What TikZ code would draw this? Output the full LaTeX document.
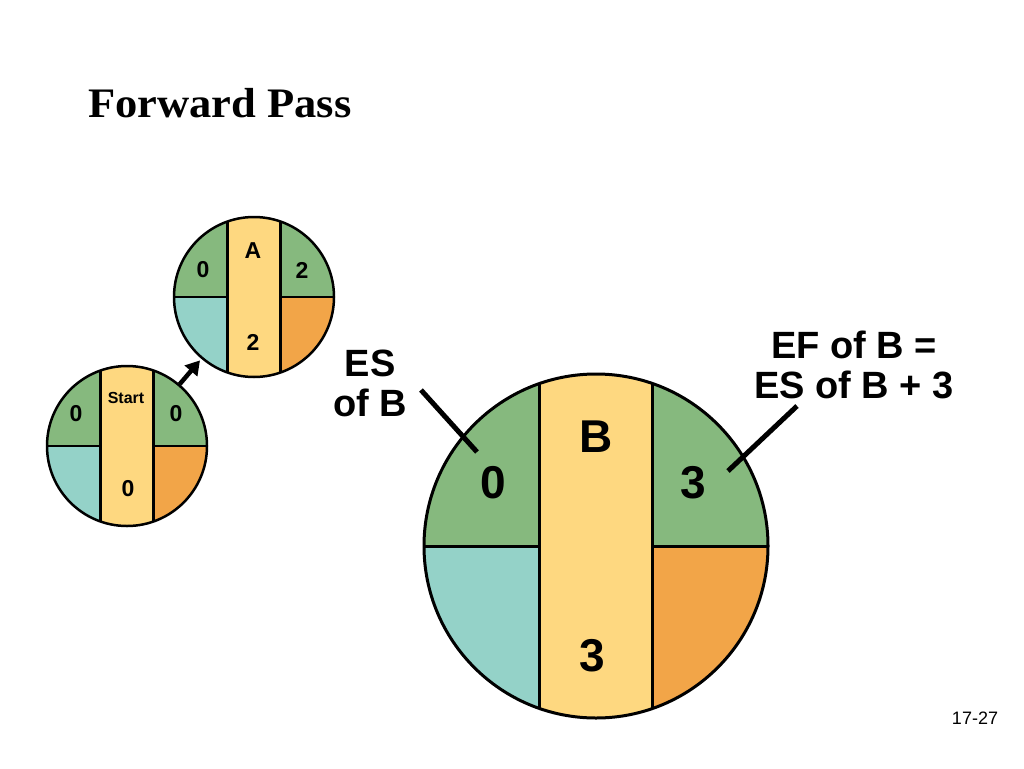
\documentclass[tikz,border=0pt]{standalone}
\usepackage{fontspec}
\setmainfont{Liberation Sans}
\newfontfamily\titlefont[FakeStretch=1.06]{Liberation Serif}
\usetikzlibrary{arrows.meta}

\definecolor{esgreen}{RGB}{134,185,126}
\definecolor{lsteal}{RGB}{148,210,200}
\definecolor{duryellow}{RGB}{254,216,128}
\definecolor{lforange}{RGB}{242,165,72}

% name, x, y, radius, half width of the middle bar, line width
\newcommand{\activitycircle}[6]{%
  \begin{scope}
    \clip (#2,#3) circle (#4pt);
    \fill[esgreen] ({#2-#4},{#3-#4}) rectangle ({#2+#4},#3);
    \fill[lsteal] ({#2-#4},#3) rectangle (#2,{#3+#4});
    \fill[lforange] (#2,#3) rectangle ({#2+#4},{#3+#4});
    \draw[line width=#6] ({#2-#4},#3) -- ({#2+#4},#3);
    \fill[duryellow] ({#2-#5},{#3-#4}) rectangle ({#2+#5},{#3+#4});
    \draw[line width=#6] ({#2-#5},{#3-#4}) -- ({#2-#5},{#3+#4});
    \draw[line width=#6] ({#2+#5},{#3-#4}) -- ({#2+#5},{#3+#4});
  \end{scope}
  \node[circle,draw,line width=#6,minimum size={2*#4pt},inner sep=0pt] (#1) at (#2,#3) {};
}

\begin{document}
\begin{tikzpicture}[x=1pt,y=-1pt,
    smallnum/.style={font=\bfseries\fontsize{23}{23}\selectfont},
    bignum/.style={font=\bfseries\fontsize{46}{46}\selectfont},
    callout/.style={font=\bfseries\fontsize{38}{40}\selectfont,align=center},
    leader/.style={line width=5pt}]
  \useasboundingbox[fill=white] (0,0) rectangle (1024,768);
  \node[anchor=west,inner sep=0pt,font=\titlefont\bfseries\fontsize{42}{42}\selectfont] (title) at (88,103) {Forward Pass};

  \activitycircle{start}{127}{446}{80}{26.5}{2.5pt}
  \activitycircle{a}{254}{297}{80}{26.5}{2.5pt}
  \activitycircle{b}{596}{546}{172}{56.5}{3pt}

  \draw
    (126,398) node[font=\bfseries\fontsize{16}{16}\selectfont] (startname){Start}
    (76,414) node[smallnum] (startes){0}
    (176,414) node[smallnum] (startef){0}
    (128,489) node[smallnum] (startdur){0}
    (253,251) node[smallnum] (aname){A}
    (203,270) node[smallnum] (aes){0}
    (302,270) node[smallnum] (aef){2}
    (253,342) node[smallnum] (adur){2}
    (596,437) node[bignum] (bname){B}
    (493,483) node[bignum] (bes){0}
    (693,483) node[bignum] (bef){3}
    (592,656) node[bignum] (bdur){3};

  \draw[-{Triangle[length=14pt,width=16pt]},line width=4.5pt,shorten >=2pt] (start) -- (a);

  \node[callout] (eslabel) at (370,383) {ES\\of B};
  \node[callout] (eflabel) at (854,365) {EF of B =\\ES of B + 3};
  \coordinate (esstart) at (421,390);
  \coordinate (esend) at (477,452);
  \coordinate (efstart) at (797,406);
  \coordinate (efend) at (728,471);
  \draw[leader] (esstart) -- (esend);
  \draw[leader] (efstart) -- (efend);

  \node[font=\fontsize{18}{18}\selectfont] (pagenum) at (975,718) {17-27};
\end{tikzpicture}
\end{document}
